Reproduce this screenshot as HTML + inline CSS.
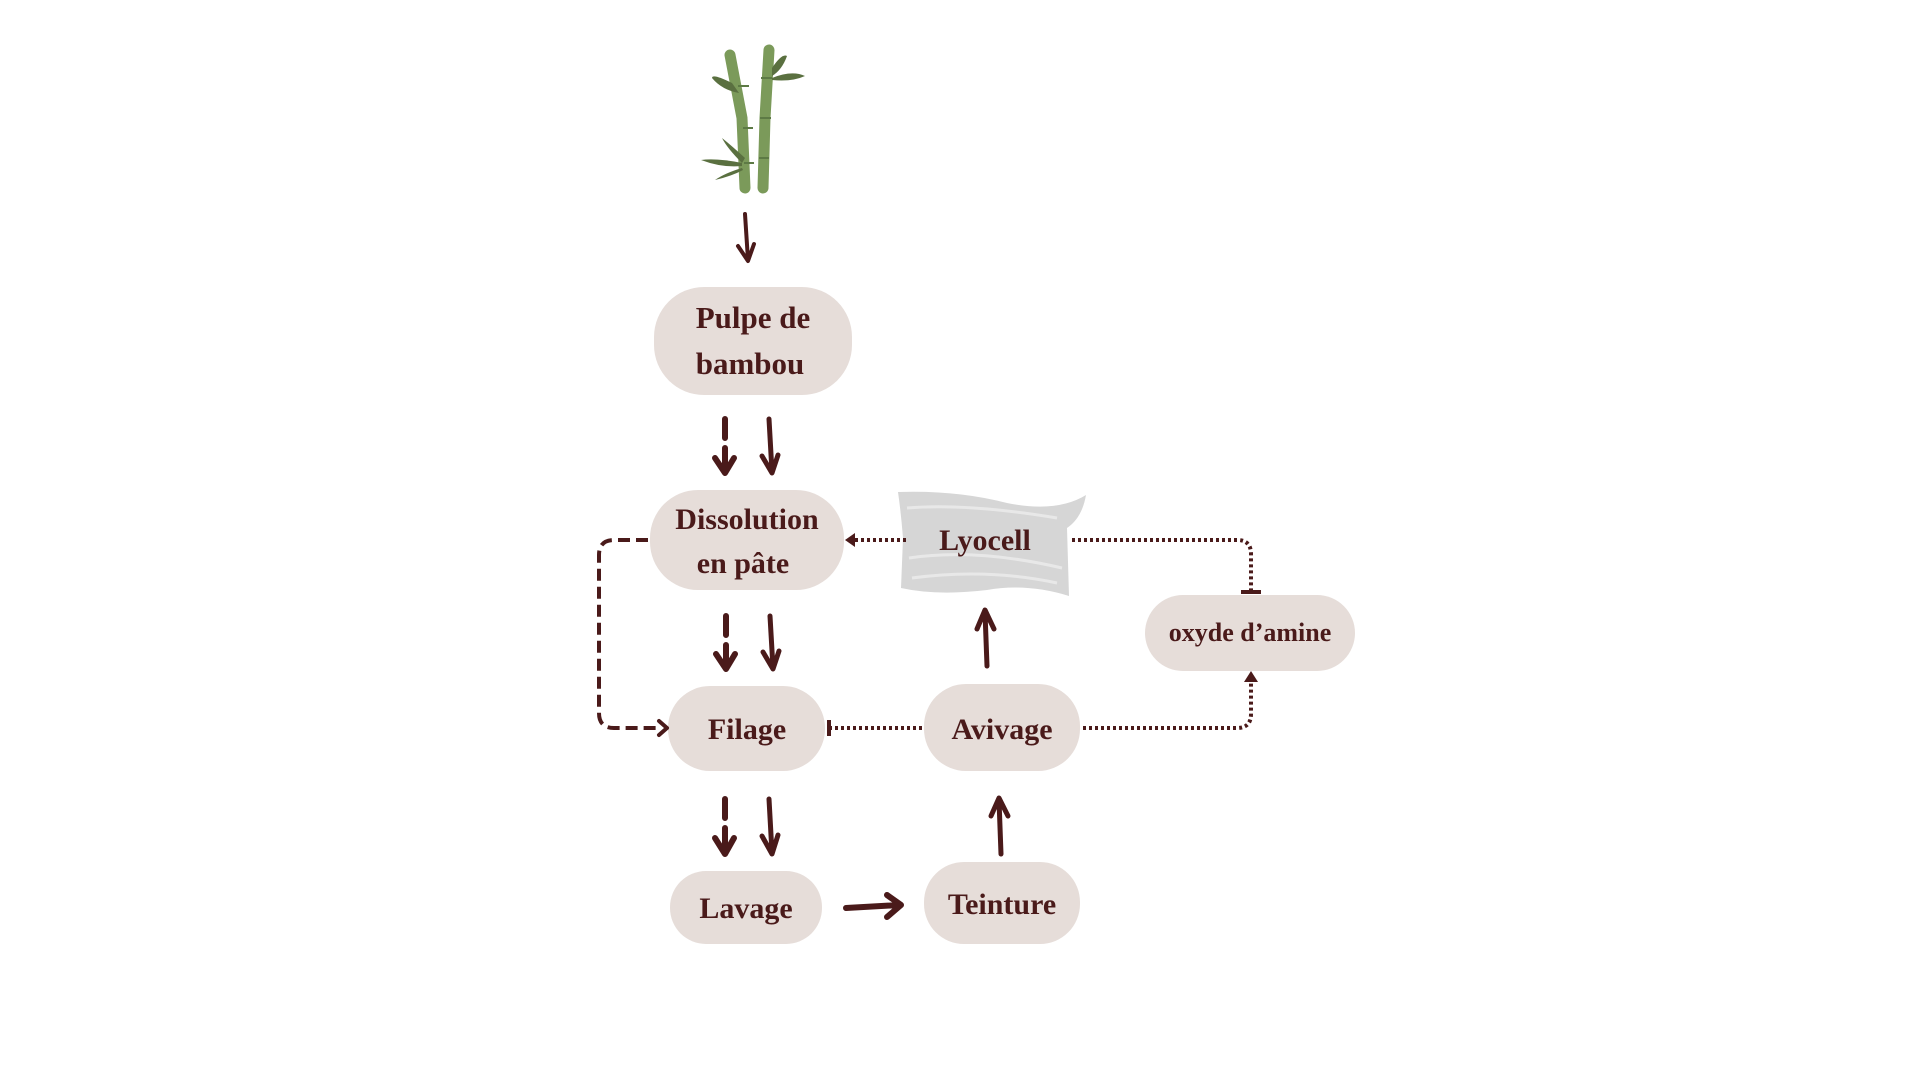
<!DOCTYPE html>
<html><head><meta charset="utf-8"><style>
html,body{margin:0;padding:0;background:#fff;width:1920px;height:1080px;overflow:hidden}
text{font-family:"Liberation Serif",serif;font-weight:bold;fill:#4a1a1a;text-anchor:middle}
</style></head><body>
<svg width="1920" height="1080" viewBox="0 0 1920 1080" xmlns="http://www.w3.org/2000/svg">
<g transform="translate(-3,-2)">
<!-- bamboo -->
<g>
<path d="M733,57 L745,120 L748,190" stroke="#7b9a5a" stroke-width="11" fill="none" stroke-linecap="round"/>
<path d="M772,52 L768,120 L766,190" stroke="#7b9a5a" stroke-width="11" fill="none" stroke-linecap="round"/>
<path d="M741,88h11M746,130h10M747,165h10M764,80h11M763,120h11M762,160h10" stroke="#5d7a45" stroke-width="2"/>
<path d="M735,85 Q715,75 715,80 Q725,92 742,95z" fill="#5a7040"/>
<path d="M775,70 Q785,55 790,58 Q785,72 775,78z" fill="#5a7040"/>
<path d="M775,80 Q795,72 808,78 Q795,84 775,82z" fill="#5a7040"/>
<path d="M745,165 Q730,150 725,140 Q735,148 748,160z" fill="#5a7040"/>
<path d="M745,165 Q720,160 704,162 Q725,170 745,168z" fill="#5a7040"/>
<path d="M745,170 Q728,175 718,182 Q735,178 746,172z" fill="#5a7040"/>
</g>
<g stroke="#4a1a1a" fill="none" stroke-linecap="round" stroke-linejoin="round">
<path d="M748,216 L751,262 M741,248 L751,263 L757,246" stroke-width="4"/>
<path d="M728,421 V440 M728,450 V474 M718,460 L728,475 L737,460" stroke-width="6"/>
<path d="M772,421 L775,474 M765,458 L775,475 L781,457" stroke-width="5"/>
<path d="M729,618 V637 M729,647 V670 M719,656 L729,671 L738,656" stroke-width="6"/>
<path d="M773,618 L776,670 M766,654 L776,671 L782,653" stroke-width="5"/>
<path d="M728,801 V820 M728,830 V855 M718,840 L728,856 L737,840" stroke-width="6"/>
<path d="M772,801 L775,855 M765,838 L775,856 L781,837" stroke-width="5"/>
<path d="M849,910 L903,907 M890,897 L904,907 L890,919" stroke-width="6"/>
<path d="M1004,856 L1002,802 M994,818 L1002,800 L1011,818" stroke-width="5"/>
<path d="M990,668 L988,614 M980,631 L988,612 L997,631" stroke-width="5"/>
</g>
<g fill="#e6ddd9">
<rect x="657" y="289" width="198" height="108" rx="50"/>
<rect x="653" y="492" width="194" height="100" rx="48"/>
<rect x="671" y="688" width="157" height="85" rx="42"/>
<rect x="673" y="873" width="152" height="73" rx="36"/>
<rect x="927" y="864" width="156" height="82" rx="40"/>
<rect x="927" y="686" width="156" height="87" rx="42"/>
<rect x="1148" y="597" width="210" height="76" rx="38"/>
</g>
<path d="M901,494 Q960,492 1010,505 Q1060,515 1089,497 Q1085,520 1070,530 L1072,598 Q1030,585 990,592 Q940,598 904,590 L906,540 Q904,515 901,494z" fill="#d6d6d6"/>
<path d="M910,510 Q970,505 1060,520 M912,560 Q980,550 1065,570 M915,580 Q990,570 1060,585" stroke="#e8e8e8" stroke-width="3" fill="none"/>
<g stroke="#4a1a1a" fill="none" stroke-width="4">
<path d="M909,542 H856" stroke-dasharray="3,3"/>
<path d="M1075,542 H1240 Q1254,542 1254,556 V593" stroke-dasharray="3,3"/>
<path d="M1244,594 H1264"/>
<path d="M1086,730 H1240 Q1254,730 1254,716 V682" stroke-dasharray="3,3"/>
<path d="M832,730 H928" stroke-dasharray="3,3"/>
<path d="M832,722 V738"/>
<path d="M651,542 H617 Q602,542 602,557 V715 Q602,730 617,730 H664" stroke-dasharray="12,6"/>
</g>
<path d="M848,542 L858,535 L858,549z" fill="#4a1a1a"/>
<path d="M1254,673 L1247,684 L1261,684z" fill="#4a1a1a"/>
<path d="M670,730 L662,723 M670,730 L662,737" stroke="#4a1a1a" stroke-width="4" fill="none" stroke-linecap="round"/>
<text x="756" y="330" font-size="31">Pulpe de</text>
<text x="753" y="376" font-size="31">bambou</text>
<text x="750" y="531" font-size="30">Dissolution</text>
<text x="746" y="575" font-size="30">en pâte</text>
<text x="750" y="741" font-size="30">Filage</text>
<text x="749" y="920" font-size="30">Lavage</text>
<text x="1005" y="916" font-size="30">Teinture</text>
<text x="1005" y="741" font-size="30">Avivage</text>
<text x="988" y="552" font-size="30">Lyocell</text>
<text x="1253" y="643" font-size="26">oxyde d’amine</text>
</g>
</svg>
</body></html>
